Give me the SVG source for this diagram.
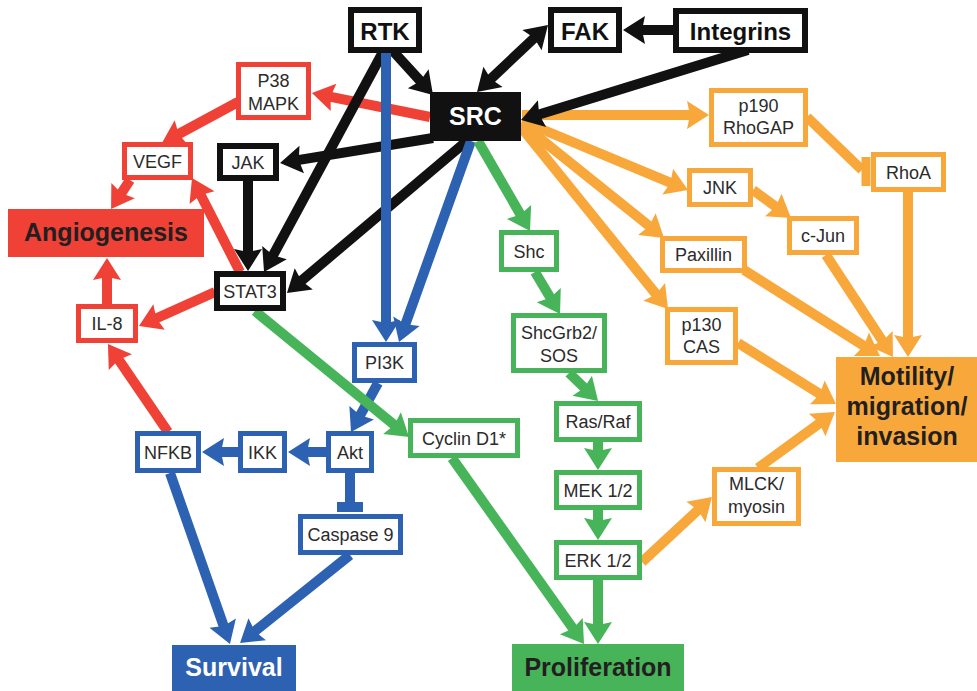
<svg xmlns="http://www.w3.org/2000/svg" width="977" height="691" viewBox="0 0 977 691">
<style>
text{font-family:"Liberation Sans",Arial,sans-serif;text-anchor:middle;fill:#2b2b2b;font-size:18px}
.big{font-size:25px;font-weight:bold;fill:#231F20}
.hdr{font-size:24px;font-weight:bold;fill:#111}
.wt{fill:#fff}
.nb{fill:#fff;stroke:#111;stroke-width:6}
.nr{fill:#fff;stroke:#EF4136;stroke-width:5}
.nu{fill:#fff;stroke:#2C62B1;stroke-width:5}
.ng{fill:#fff;stroke:#47B459;stroke-width:5}
.no{fill:#fff;stroke:#F8A83A;stroke-width:5}
.e{fill:none;stroke-width:10;stroke-linecap:butt}
.ek{stroke:#111;marker-end:url(#ak)}
.er{stroke:#EF4136;marker-end:url(#ar)}
.eu{stroke:#2C62B1;marker-end:url(#au)}
.eg{stroke:#47B459;marker-end:url(#ag)}
.eo{stroke:#F8A83A;marker-end:url(#ao)}
.nm{marker-end:none}
</style>
<defs>
<marker id="ak" markerUnits="userSpaceOnUse" markerWidth="30" markerHeight="30" refX="4" refY="14" orient="auto-start-reverse" overflow="visible"><path d="M0,0 L22,14 L0,28 L3,14 Z" fill="#111"/></marker>
<marker id="ar" markerUnits="userSpaceOnUse" markerWidth="30" markerHeight="30" refX="4" refY="14" orient="auto" overflow="visible"><path d="M0,0 L22,14 L0,28 L3,14 Z" fill="#EF4136"/></marker>
<marker id="au" markerUnits="userSpaceOnUse" markerWidth="30" markerHeight="30" refX="4" refY="14" orient="auto" overflow="visible"><path d="M0,0 L22,14 L0,28 L3,14 Z" fill="#2C62B1"/></marker>
<marker id="ag" markerUnits="userSpaceOnUse" markerWidth="30" markerHeight="30" refX="4" refY="14" orient="auto" overflow="visible"><path d="M0,0 L22,14 L0,28 L3,14 Z" fill="#47B459"/></marker>
<marker id="ao" markerUnits="userSpaceOnUse" markerWidth="30" markerHeight="30" refX="4" refY="14" orient="auto" overflow="visible"><path d="M0,0 L22,14 L0,28 L3,14 Z" fill="#F8A83A"/></marker>
</defs>
<rect width="977" height="691" fill="#fff"/>
<g id="connectors">
<!-- orange -->
<line class="e eo" x1="522" y1="115" x2="691" y2="115"/>
<line class="e eo nm" x1="807" y1="117" x2="862" y2="170"/>
<line x1="866" y1="157" x2="866" y2="186" stroke="#F8A83A" stroke-width="9"/>
<line class="e eo" x1="522" y1="121" x2="671.4" y2="183.1"/>
<line class="e eo" x1="753" y1="190" x2="776.5" y2="207.3"/>
<line class="e eo" x1="522" y1="124" x2="650" y2="226.7"/>
<line class="e eo" x1="521" y1="127" x2="656.7" y2="295"/>
<line class="e eo" x1="908" y1="192" x2="908" y2="339"/>
<line class="e eo" x1="826" y1="255" x2="883.1" y2="342"/>
<line class="e eo" x1="744" y1="270" x2="864.8" y2="346.4"/>
<line class="e eo" x1="738" y1="343" x2="820.7" y2="394.5"/>
<line class="e eo" x1="642" y1="562" x2="698.8" y2="509.3"/>
<line class="e eo" x1="758" y1="468" x2="820.4" y2="422.6"/>
<!-- red -->
<line class="e er" x1="430" y1="117" x2="329.6" y2="96.6"/>
<line class="e er" x1="238" y1="102" x2="177.8" y2="134.5"/>
<line class="e er" x1="130" y1="180" x2="120.9" y2="194"/>
<line class="e er" x1="240" y1="272" x2="200.2" y2="194"/>
<line class="e er" x1="215" y1="292" x2="155.4" y2="318.7"/>
<line class="e er" x1="107" y1="305" x2="107" y2="276"/>
<line class="e er" x1="168" y1="432" x2="118.1" y2="358.9"/>
<!-- black -->
<line class="e ek" x1="392" y1="50" x2="420.9" y2="81.7"/>
<line class="e ek" x1="490.1" y1="79.6" x2="534.9" y2="37.4" style="marker-start:url(#ak)"/>
<line class="e ek" x1="675" y1="30" x2="641" y2="30"/>
<line class="e ek" x1="748" y1="50" x2="538.2" y2="114.7"/>
<line class="e ek" x1="433" y1="138" x2="297.8" y2="160.1"/>
<line class="e ek" x1="383" y1="52" x2="272.6" y2="256.2"/>
<line class="e ek" x1="248" y1="181" x2="248" y2="253"/>
<line class="e ek" x1="468" y1="140" x2="300.7" y2="281.4"/>
<!-- blue -->
<line class="e eu" x1="386" y1="53" x2="386" y2="324"/>
<line class="e eu" x1="471" y1="141" x2="405.1" y2="325.1"/>
<line class="e eu" x1="378" y1="383" x2="359.7" y2="416.2"/>
<line class="e eu" x1="327" y1="452" x2="306" y2="452"/>
<line class="e eu" x1="239" y1="452" x2="220" y2="452"/>
<line class="e eu nm" x1="350" y1="473" x2="350" y2="507"/>
<line x1="337" y1="507" x2="363" y2="507" stroke="#2C62B1" stroke-width="10"/>
<line class="e eu" x1="170" y1="473" x2="224" y2="627"/>
<line class="e eu" x1="350" y1="555" x2="254.1" y2="631.8"/>
<!-- green -->
<line class="e eg" x1="478" y1="141" x2="521" y2="215.4"/>
<line class="e eg" x1="535" y1="272" x2="550.8" y2="298.5"/>
<line class="e eg" x1="569" y1="373" x2="585.1" y2="388.5"/>
<line class="e eg" x1="598" y1="442" x2="598" y2="452"/>
<line class="e eg" x1="598" y1="510" x2="598" y2="522"/>
<line class="e eg" x1="598" y1="580" x2="598" y2="626"/>
<line class="e eg" x1="255" y1="311" x2="395.1" y2="425.6"/>
<line class="e eg" x1="452" y1="458" x2="573.6" y2="629.3"/>
</g>
<g id="RTK"><rect class="nb" x="351" y="10" width="68" height="40"/><text class="hdr" x="385" y="40">RTK</text></g>
<g id="FAK"><rect class="nb" x="551" y="10" width="68" height="40"/><text class="hdr" x="585" y="40">FAK</text></g>
<g id="Integrins"><rect class="nb" x="676" y="11" width="129" height="39"/><text class="hdr" x="740.5" y="40">Integrins</text></g>
<g id="SRC"><rect x="430" y="92" width="91" height="49" fill="#111"/><text class="big wt" x="475.5" y="125">SRC</text></g>
<g id="JAK"><rect class="nb" x="220" y="146" width="56" height="32"/><text x="248" y="168.5">JAK</text></g>
<g id="STAT3"><rect class="nb" x="217" y="274" width="66" height="34"/><text x="250" y="297.5">STAT3</text></g>
<g id="P38MAPK"><rect class="nr" x="238.5" y="64.5" width="70" height="53"/><text x="273.5" y="87">P38</text><text x="273.5" y="110">MAPK</text></g>
<g id="VEGF"><rect class="nr" x="124.5" y="144.5" width="66" height="33"/><text x="157.5" y="168">VEGF</text></g>
<g id="Angiogenesis"><rect x="8" y="209" width="196" height="48" fill="#EF4136"/><text class="big" x="106" y="241">Angiogenesis</text></g>
<g id="IL8"><rect class="nr" x="78.5" y="306.5" width="57" height="34"/><text x="107" y="330">IL-8</text></g>
<g id="PI3K"><rect class="nu" x="354.5" y="344.5" width="60" height="36"/><text x="384.5" y="369">PI3K</text></g>
<g id="Akt"><rect class="nu" x="328.5" y="433.5" width="43" height="37"/><text x="350" y="458.5">Akt</text></g>
<g id="IKK"><rect class="nu" x="240.5" y="433.5" width="44" height="37"/><text x="262.5" y="458.5">IKK</text></g>
<g id="NFKB"><rect class="nu" x="137.5" y="433.5" width="61" height="37"/><text x="168" y="458.5">NFKB</text></g>
<g id="Caspase9"><rect class="nu" x="300.5" y="516.5" width="100" height="36"/><text x="350.5" y="541">Caspase 9</text></g>
<g id="Survival"><rect x="172" y="645" width="124" height="46" fill="#2C62B1"/><text class="big wt" x="234" y="676">Survival</text></g>
<g id="CyclinD1"><rect class="ng" x="410.5" y="420.5" width="107" height="35"/><text x="464" y="444.5">Cyclin D1*</text></g>
<g id="Shc"><rect class="ng" x="501.5" y="232.5" width="55" height="37"/><text x="529" y="257.5">Shc</text></g>
<g id="ShcGrb2SOS"><rect class="ng" x="513.5" y="315.5" width="91" height="55"/><text x="559" y="339">ShcGrb2/</text><text x="559" y="362">SOS</text></g>
<g id="RasRaf"><rect class="ng" x="556.5" y="403.5" width="83" height="36"/><text x="598" y="428">Ras/Raf</text></g>
<g id="MEK"><rect class="ng" x="556.5" y="472.5" width="83" height="35"/><text x="598" y="496.5">MEK 1/2</text></g>
<g id="ERK"><rect class="ng" x="556.5" y="542.5" width="83" height="35"/><text x="598" y="566.5">ERK 1/2</text></g>
<g id="Proliferation"><rect x="512" y="644" width="172" height="47" fill="#47B459"/><text class="big" x="598" y="676">Proliferation</text></g>
<g id="p190RhoGAP"><rect class="no" x="711.5" y="90.5" width="94" height="54"/><text x="758.5" y="112">p190</text><text x="758.5" y="134">RhoGAP</text></g>
<g id="RhoA"><rect class="no" x="873.5" y="154.5" width="70" height="35"/><text x="908.5" y="178.5">RhoA</text></g>
<g id="JNK"><rect class="no" x="689.5" y="170.5" width="61" height="34"/><text x="720" y="194">JNK</text></g>
<g id="cJun"><rect class="no" x="789.5" y="218.5" width="67" height="34"/><text x="823" y="242">c-Jun</text></g>
<g id="Paxillin"><rect class="no" x="662.5" y="238.5" width="82" height="32"/><text x="703.5" y="261">Paxillin</text></g>
<g id="p130CAS"><rect class="no" x="667.5" y="309.5" width="68" height="53"/><text x="701.5" y="331">p130</text><text x="701.5" y="353">CAS</text></g>
<g id="MLCKmyosin"><rect class="no" x="714.5" y="469.5" width="84" height="54"/><text x="756.5" y="490">MLCK/</text><text x="756.5" y="513">myosin</text></g>
<g id="Motility"><rect x="836" y="357" width="141" height="105" fill="#F8A83A"/><text class="big" x="907" y="385">Motility/</text><text class="big" x="907" y="415">migration/</text><text class="big" x="907" y="445">invasion</text></g>
</svg>
